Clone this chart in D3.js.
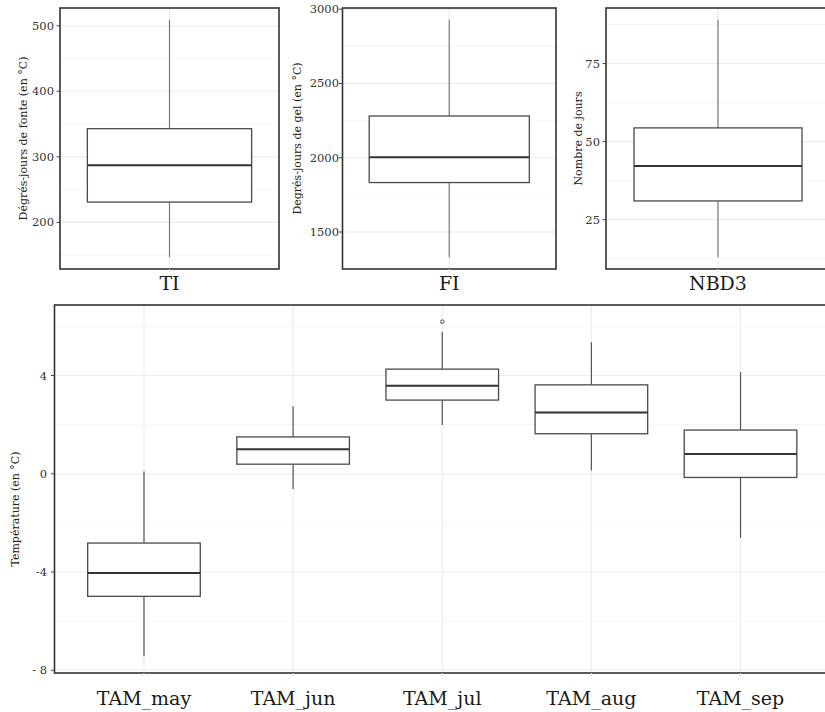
<!DOCTYPE html>
<html>
<head>
<meta charset="utf-8">
<script src="https://cdn.jsdelivr.net/npm/d3@7"></script>
<style>
  html, body { margin: 0; padding: 0; background: #fff; }
  svg { display: block; }
</style>
</head>
<body>
<svg id="chart" width="825" height="712"></svg>
<script>
// ---------- DATA ----------
// top panels: [lower whisker, Q1, median, Q3, upper whisker]
const topCategories = ["TI", "FI", "NBD3"];
const topYTitles = ["Dégrés-jours de fonte (en °C)", "Degrés-jours de gel (en °C)", "Nombre de jours"];
const statsTI = [147, 231, 287, 343, 509];
const statsFI = [1331, 1833, 2004, 2281, 2928];
const statsNBD3 = [13, 31, 42.2, 54.4, 89];
const ticksTI = [200, 300, 400, 500];
const ticksFI = [1500, 2000, 2500, 3000];
const ticksNBD3 = [25, 50, 75];

// bottom panel
const tamCategories = ["TAM_may", "TAM_jun", "TAM_jul", "TAM_aug", "TAM_sep"];
const tamLow = [-7.43, -0.62, 1.99, 0.13, -2.61];
const tamQ1 = [-4.99, 0.39, 3.0, 1.63, -0.15];
const tamMedian = [-4.04, 1.0, 3.58, 2.49, 0.81];
const tamQ3 = [-2.82, 1.5, 4.26, 3.62, 1.78];
const tamHigh = [0.09, 2.74, 5.78, 5.35, 4.15];
const tamOutliers = [[], [], [6.19], [], []];
const tamTicks = [-8, -4, 0, 4];
const tamTickLabels = ["- 8", "-4", "0", "4"];
const tamYTitle = "Température (en °C)";

// ---------- DRAW ----------
const svg = d3.select("#chart");
const FONT = "'DejaVu Serif', 'Liberation Serif', serif";
const BORDER = "#333333";
const GRID_MAJOR = "#ebebeb";
const GRID_MINOR = "#f5f5f5";

function expandDomain(vals) {
  const lo = d3.min(vals), hi = d3.max(vals);
  const pad = (hi - lo) * 0.05;
  return [lo - pad, hi + pad];
}

function minorTicks(ticks, domain) {
  const step = ticks[1] - ticks[0];
  const out = [];
  for (let t = ticks[0] - step / 2; t <= domain[1]; t += step) {
    if (t >= domain[0]) out.push(t);
  }
  return out;
}

function panel(opts) {
  const { x0, x1, y0, y1, cats, low, q1, med, q3, high, outliers, ticks, tickLabels,
          yTitle, titleX, titleY, labelRight, boxFrac, catFont, catBaseline, whiskerColor } = opts;
  const g = svg.append("g");
  const allVals = low.concat(high).concat(outliers.flat());
  const domain = expandDomain(allVals);
  const y = d3.scaleLinear().domain(domain).range([y1, y0]);
  const x = d3.scalePoint().domain(cats).range([x0, x1]).padding(0.6);
  const step = cats.length > 1 ? x.step() : (x1 - x0);
  const bw = step * boxFrac;

  g.append("rect").attr("x", x0).attr("y", y0).attr("width", x1 - x0).attr("height", y1 - y0)
    .attr("fill", "#fff");

  g.selectAll(".gmin").data(minorTicks(ticks, domain)).enter().append("line")
    .attr("x1", x0).attr("x2", x1).attr("y1", d => y(d)).attr("y2", d => y(d))
    .attr("stroke", GRID_MINOR).attr("stroke-width", 1);
  g.selectAll(".gmaj").data(ticks).enter().append("line")
    .attr("x1", x0).attr("x2", x1).attr("y1", d => y(d)).attr("y2", d => y(d))
    .attr("stroke", GRID_MAJOR).attr("stroke-width", 1.1);
  g.selectAll(".gv").data(cats).enter().append("line")
    .attr("x1", d => x(d)).attr("x2", d => x(d)).attr("y1", y0).attr("y2", y1)
    .attr("stroke", GRID_MAJOR).attr("stroke-width", 1.1);

  cats.forEach((c, i) => {
    const cx = x(c);
    g.append("line").attr("x1", cx).attr("x2", cx).attr("y1", y(high[i])).attr("y2", y(q3[i]))
      .attr("stroke", whiskerColor).attr("stroke-width", 1.2);
    g.append("line").attr("x1", cx).attr("x2", cx).attr("y1", y(q1[i])).attr("y2", y(low[i]))
      .attr("stroke", whiskerColor).attr("stroke-width", 1.2);
    g.append("rect").attr("x", cx - bw / 2).attr("y", y(q3[i])).attr("width", bw)
      .attr("height", y(q1[i]) - y(q3[i]))
      .attr("fill", "#fff").attr("stroke", "#4a4a4a").attr("stroke-width", 1.3);
    g.append("line").attr("x1", cx - bw / 2).attr("x2", cx + bw / 2)
      .attr("y1", y(med[i])).attr("y2", y(med[i]))
      .attr("stroke", "#333").attr("stroke-width", 2);
    outliers[i].forEach(o => {
      g.append("circle").attr("cx", cx).attr("cy", y(o)).attr("r", 1.8)
        .attr("fill", "none").attr("stroke", "#555").attr("stroke-width", 1);
    });
  });

  g.append("rect").attr("x", x0).attr("y", y0).attr("width", x1 - x0).attr("height", y1 - y0)
    .attr("fill", "none").attr("stroke", BORDER).attr("stroke-width", 1.6);

  g.selectAll(".yt").data(ticks).enter().append("line")
    .attr("x1", x0 - 3.5).attr("x2", x0).attr("y1", d => y(d)).attr("y2", d => y(d))
    .attr("stroke", "#444").attr("stroke-width", 1);
  g.selectAll(".yl").data(ticks).enter().append("text")
    .attr("x", labelRight).attr("y", d => y(d)).attr("dy", "0.35em")
    .attr("text-anchor", "end").attr("font-family", FONT).attr("font-size", 11.5)
    .attr("fill", "#333").text((d, i) => tickLabels ? tickLabels[i] : d);

  g.selectAll(".xt").data(cats).enter().append("line")
    .attr("x1", d => x(d)).attr("x2", d => x(d)).attr("y1", y1).attr("y2", y1 + 3)
    .attr("stroke", "#ddd").attr("stroke-width", 1);
  g.selectAll(".xl").data(cats).enter().append("text")
    .attr("x", d => x(d)).attr("y", y1 + catBaseline)
    .attr("text-anchor", "middle").attr("font-family", FONT).attr("font-size", catFont)
    .attr("fill", "#1a1a1a").text(d => d);

  g.append("text").attr("transform", `translate(${titleX},${titleY}) rotate(-90)`)
    .attr("text-anchor", "middle").attr("dy", "0.35em")
    .attr("font-family", FONT).attr("font-size", 11).attr("fill", "#222").text(yTitle);
}

const topStats = [statsTI, statsFI, statsNBD3];
const topTicks = [ticksTI, ticksFI, ticksNBD3];
const topX = [[60, 279], [342.5, 556], [606, 830]];
const topTitleX = [23, 297, 578];
const topLabelRight = [54, 339, 600];

topCategories.forEach((c, i) => {
  const s = topStats[i];
  panel({
    x0: topX[i][0], x1: topX[i][1], y0: 8, y1: 269,
    cats: [c], low: [s[0]], q1: [s[1]], med: [s[2]], q3: [s[3]], high: [s[4]], outliers: [[]],
    ticks: topTicks[i], tickLabels: null,
    yTitle: topYTitles[i], titleX: topTitleX[i], titleY: 138.5, labelRight: topLabelRight[i],
    boxFrac: 0.75, catFont: 19, catBaseline: 21, whiskerColor: "#7a7a7a"
  });
});

panel({
  x0: 54.5, x1: 830, y0: 305, y1: 673,
  cats: tamCategories, low: tamLow, q1: tamQ1, med: tamMedian, q3: tamQ3, high: tamHigh,
  outliers: tamOutliers, ticks: tamTicks, tickLabels: tamTickLabels,
  yTitle: tamYTitle, titleX: 15, titleY: 509, labelRight: 47,
  boxFrac: 0.755, catFont: 19, catBaseline: 32, whiskerColor: "#555"
});
</script>
</body>
</html>
